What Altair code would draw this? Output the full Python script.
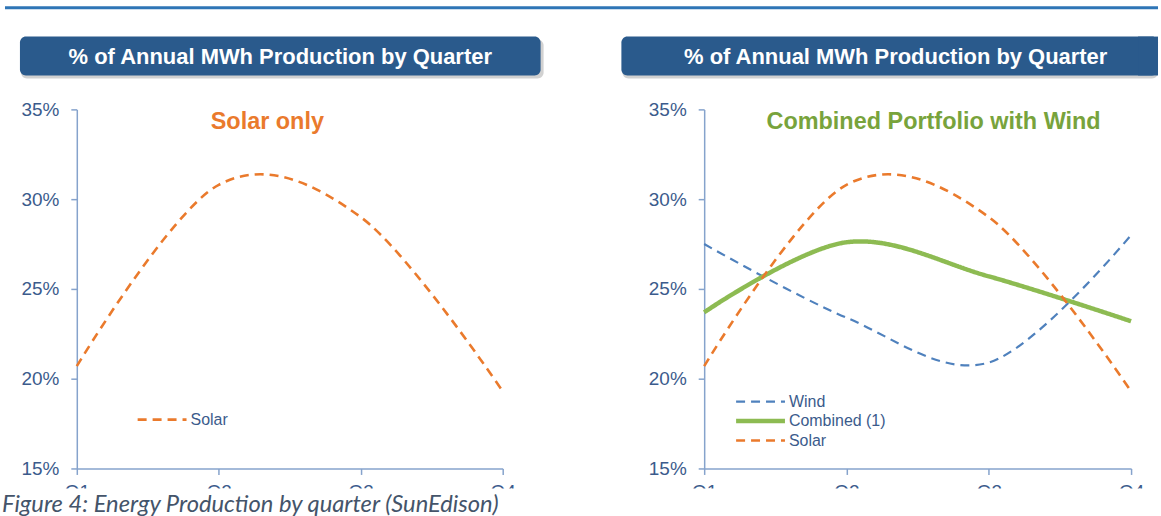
import altair as alt
import pandas as pd

# ---- data ----
quarters = ["Q1", "Q2", "Q3", "Q4"]
solar = [0.207, 0.308, 0.290, 0.193]
wind = [0.275, 0.234, 0.209, 0.280]
combined = [0.237, 0.276, 0.257, 0.232]
y_ticks = [0.15, 0.20, 0.25, 0.30, 0.35]

panel_title = "% of Annual MWh Production by Quarter"
left_subtitle = "Solar only"
right_subtitle = "Combined Portfolio with Wind"
caption = "Figure 4: Energy Production by quarter (SunEdison)"

series_names = ["Wind", "Combined (1)", "Solar"]
series_colors = ["#4f81bd", "#8dbb52", "#ea7a2c"]
series_dashes = [[9, 6], [1, 0], [9, 6]]
series_widths = [2.2, 4.5, 2.6]

LABEL = "#3b5b8c"
AXIS = "#86a3cc"
BOX = "#2a5a8c"
W_L, W_R, H = 427, 428, 360


def make_df(names, values):
    rows = []
    for n, vals in zip(names, values):
        for q, v in zip(quarters, vals):
            rows.append({"quarter": q, "value": v, "series": n})
    return pd.DataFrame(rows)


def one():
    return pd.DataFrame({"k": [0]})


def panel(df, names, width, subtitle, sub_color, sub_x, box_x, box_x2, square_right,
          title_x, leg_x, leg_x2, leg_y0, leg_y1, extra=None):
    idx = [series_names.index(n) for n in names]
    color = alt.Color("series:N", legend=None,
                      scale=alt.Scale(domain=names, range=[series_colors[i] for i in idx]))
    dash = alt.StrokeDash("series:N", legend=None,
                          scale=alt.Scale(domain=names, range=[series_dashes[i] for i in idx]))
    sw = alt.StrokeWidth("series:N", legend=None,
                         scale=alt.Scale(type="ordinal", domain=names,
                                         range=[series_widths[i] for i in idx]))
    x = alt.X("quarter:N", scale=alt.Scale(type="point", padding=0, domain=quarters),
              axis=alt.Axis(title=None, labelAngle=0, labelPadding=8,
                            labelBaseline="top", labelFontSize=19))
    y = alt.Y("value:Q", scale=alt.Scale(domain=[0.15, 0.35], nice=False),
              axis=alt.Axis(title=None, values=y_ticks, format=".0%", grid=False,
                            labelPadding=12, labelFontSize=19))
    lines = alt.Chart(df).mark_line(interpolate="cardinal").encode(
        x=x, y=y, color=color, strokeDash=dash, strokeWidth=sw,
        order=alt.Order("series:N"),
    )
    # legend drawn from the series names through the same colour/dash/width scales
    leg_df = pd.DataFrame({"series": names})
    leg_y = alt.Y("series:N", axis=None,
                  scale=alt.Scale(type="point", padding=0, domain=names, range=[leg_y0, leg_y1]))
    leg_lines = alt.Chart(leg_df).mark_rule().encode(
        x=alt.value(leg_x), x2=alt.value(leg_x2), y=leg_y,
        color=color, strokeDash=dash, strokeWidth=sw)
    leg_text = alt.Chart(leg_df).mark_text(
        align="left", baseline="middle", fontSize=16, font="Liberation Sans", color=LABEL
    ).encode(text="series:N", x=alt.value(leg_x2 + 4), y=leg_y)

    shadow = alt.Chart(one()).mark_rect(color="#000000", opacity=0.18, cornerRadius=6).encode(
        x=alt.value(box_x + 1), x2=alt.value(box_x2 + (0 if square_right else 3)),
        y=alt.value(-70), y2=alt.value(-31))
    box = alt.Chart(one()).mark_rect(color=BOX, cornerRadius=6).encode(
        x=alt.value(box_x), x2=alt.value(box_x2), y=alt.value(-73), y2=alt.value(-34))
    layers = [lines, leg_lines, leg_text, shadow, box]
    if square_right:
        layers.append(alt.Chart(one()).mark_rect(color=BOX).encode(
            x=alt.value(box_x2 - 20), x2=alt.value(box_x2), y=alt.value(-73), y2=alt.value(-34)))
    ttl = alt.Chart(pd.DataFrame({"t": [panel_title]})).mark_text(
        color="white", fontWeight="bold", fontSize=22, font="Liberation Sans",
        align="center", baseline="middle").encode(
        text="t:N", x=alt.value(title_x), y=alt.value(-53))
    sub = alt.Chart(pd.DataFrame({"t": [subtitle]})).mark_text(
        color=sub_color, fontWeight="bold", fontSize=23.5, font="Liberation Sans",
        align="center", baseline="middle").encode(
        text="t:N", x=alt.value(sub_x), y=alt.value(13))
    cover = alt.Chart(one()).mark_rect(color="white").encode(
        x=alt.value(-70), x2=alt.value(width + 30), y=alt.value(380), y2=alt.value(406))
    layers += [ttl, sub, cover]
    if extra:
        layers += extra
    return alt.layer(*layers).properties(width=width, height=H).resolve_scale(y="independent")


anchor = alt.Chart(one()).mark_rect(color="white").encode(
    x=alt.value(-77), x2=alt.value(-76), y=alt.value(-109), y2=alt.value(-108))
top_rule = alt.Chart(one()).mark_rule(color="#2e75b6", strokeWidth=3).encode(
    x=alt.value(-72), x2=alt.value(1084), y=alt.value(-102))
cap = alt.Chart(pd.DataFrame({"t": [caption]})).mark_text(
    color="#44546a", fontStyle="italic", fontSize=23.8, font="Lato",
    align="left", baseline="middle").encode(
    text="t:N", x=alt.value(-75), y=alt.value(397))

left = panel(make_df(["Solar"], [solar]), ["Solar"], W_L, left_subtitle, "#ea7a2c",
             191, -57, 465, False, 204, 61, 110, 311, 311, extra=[anchor, top_rule, cap])
right = panel(make_df(["Wind", "Combined (1)", "Solar"], [wind, combined, solar]),
              ["Wind", "Combined (1)", "Solar"], W_R, right_subtitle, "#78a33c",
              230, -83, 455, True, 192, 32, 81, 293, 332)

chart = alt.hconcat(left, right, spacing=202, bounds="flush").resolve_scale(
    color="independent", strokeDash="independent", strokeWidth="independent"
).properties(
    padding=0,
    background="white",
).configure_view(stroke=None).configure_axis(
    domainColor=AXIS, tickColor=AXIS, domainWidth=1.5, tickWidth=1.5, tickSize=6,
    labelColor=LABEL, labelFont="Liberation Sans",
)

chart.save("out.html", embed_options={"renderer": "svg", "actions": False})
